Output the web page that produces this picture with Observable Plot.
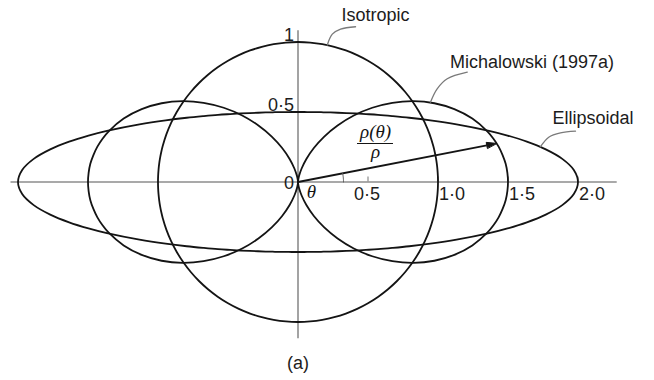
<!DOCTYPE html>
<html>
<head>
<meta charset="utf-8">
<script src="https://cdn.jsdelivr.net/npm/d3@7"></script>
<script src="https://cdn.jsdelivr.net/npm/@observablehq/plot@0.6"></script>
<style>
  html, body { margin: 0; padding: 0; background: #fff; }
  #chart { width: 654px; height: 380px; }
</style>
</head>
<body>
<div id="chart"></div>
<script>
// Normalised strength ρ(θ)/ρ against direction θ (degrees), first quadrant;
// each curve is symmetric about both axes. Finer steps near θ = 0 where the
// ellipse turns sharply.
const angles = [0, 2.5, 5, 7.5, 10, 12.5, 15, 20, 25, 30, 35, 40, 45, 50, 55, 60, 65, 70, 75, 80, 85, 90];
const isotropicRho = [1, 1, 1, 1, 1, 1, 1, 1, 1, 1, 1, 1, 1, 1, 1, 1, 1, 1, 1, 1, 1, 1];
const ellipsoidalRho = [2.000, 1.972, 1.895, 1.785, 1.660, 1.533, 1.413, 1.205, 1.043, 0.918, 0.821,
                        0.746, 0.686, 0.639, 0.601, 0.571, 0.548, 0.530, 0.517, 0.507, 0.502, 0.500];
const michalowskiRho = [1.500, 1.497, 1.489, 1.474, 1.455, 1.430, 1.400, 1.325, 1.232, 1.125, 1.007,
                        0.880, 0.750, 0.620, 0.493, 0.375, 0.268, 0.175, 0.100, 0.045, 0.011, 0.000];

// Axis ticks and their labels
const xTicks = [0.5, 1.0, 1.5, 2.0];
const xTickLabels = ["0·5", "1·0", "1·5", "2·0"];
const yTicks = [0.5, 1];
const yTickLabels = ["0·5", "1"];

// Curve names with the label centre and the leader line drawn to each curve
const curveNames = ["Isotropic", "Michalowski (1997a)", "Ellipsoidal"];
const labelX = [0.554, 1.671, 2.107];
const labelY = [1.189, 0.854, 0.454];
const leaderIsotropic = [[0.209, 0.978], [0.245, 1.056], [0.304, 1.092], [0.411, 1.109]];
const leaderMichalowski = [[0.946, 0.570], [0.994, 0.666], [1.066, 0.738], [1.209, 0.785]];
const leaderEllipsoidal = [[1.732, 0.252], [1.791, 0.320], [1.875, 0.351], [1.982, 0.363]];

// The radius vector drawn to the Michalowski curve
const arrowAngle = 11;      // degrees
const arrowRho = 1.445;
const arcRadius = 0.325;

const rad = Math.PI / 180;
const polar = (t, r) => ({x: r * Math.cos(t * rad), y: r * Math.sin(t * rad)});

// Reflect the first-quadrant readings round the full turn (closed outline)
function fullTurn(rho, name) {
  const pts = [];
  for (let i = 0; i < angles.length; ++i) pts.push([angles[i], rho[i]]);
  for (let i = angles.length - 2; i >= 0; --i) pts.push([180 - angles[i], rho[i]]);
  for (let i = 1; i < angles.length; ++i) pts.push([180 + angles[i], rho[i]]);
  for (let i = angles.length - 2; i >= 1; --i) pts.push([360 - angles[i], rho[i]]);
  return pts.map(([t, r]) => ({...polar(t, r), curve: name}));
}

// The Michalowski curve meets the origin, so it is drawn as two lobes
function lobes(rho, name) {
  const right = [];
  for (let i = angles.length - 1; i >= 1; --i) right.push(polar(-angles[i], rho[i]));
  for (let i = 0; i < angles.length; ++i) right.push(polar(angles[i], rho[i]));
  const left = right.map(p => ({x: -p.x, y: p.y}));
  return [
    ...right.map(p => ({...p, lobe: name + " right"})),
    ...left.map(p => ({...p, lobe: name + " left"}))
  ];
}

const closedCurves = [
  ...fullTurn(isotropicRho, curveNames[0]),
  ...fullTurn(ellipsoidalRho, curveNames[2])
];
const michalowskiPts = lobes(michalowskiRho, curveNames[1]);

const leaders = [leaderIsotropic, leaderMichalowski, leaderEllipsoidal]
  .flatMap((pts, k) => pts.map(([x, y]) => ({x, y, curve: curveNames[k]})));

const labels = curveNames.map((name, i) => ({name, x: labelX[i], y: labelY[i]}));

// Arrow shaft and filled head
const tip = polar(arrowAngle, arrowRho);
const ux = Math.cos(arrowAngle * rad), uy = Math.sin(arrowAngle * rad);
const headLen = 10 / 140, headHalf = 3 / 140;
const base = {x: tip.x - headLen * ux, y: tip.y - headLen * uy};
const head = [
  tip,
  {x: base.x - headHalf * uy, y: base.y + headHalf * ux},
  {x: base.x + headHalf * uy, y: base.y - headHalf * ux}
];
const arc = d3.range(0, arrowAngle + 0.5, 1).map(t => polar(t, arcRadius));

const sans = "'Liberation Sans', Arial, Helvetica, sans-serif";
const serif = "'Liberation Serif', 'Times New Roman', serif";
const ink = "#141414";
const axisGray = "#8c8c8c";

const chart = Plot.plot({
  width: 654,
  height: 380,
  margin: 0,
  x: {domain: [0, 1], range: [297.5, 437.5], axis: null},
  y: {domain: [0, 1], range: [181.5, 41.5], axis: null},
  style: {fontFamily: sans, background: "#fff", overflow: "visible"},
  marks: [
    // axes
    Plot.ruleY([{y: 0, x1: -2.05, x2: 2.28}], {y: "y", x1: "x1", x2: "x2", stroke: axisGray, strokeWidth: 1.6}),
    Plot.ruleX([{x: 0, y1: -1.12, y2: 1.08}], {x: "x", y1: "y1", y2: "y2", stroke: axisGray, strokeWidth: 1.6}),
    Plot.ruleX(xTicks, {x: d => d, y1: 0, y2: 0.036, stroke: axisGray, strokeWidth: 1.2}),

    // curves
    Plot.line(closedCurves, {x: "x", y: "y", z: "curve", curve: "catmull-rom-closed", stroke: ink, strokeWidth: 1.8}),
    Plot.line(michalowskiPts, {x: "x", y: "y", z: "lobe", curve: "catmull-rom", stroke: ink, strokeWidth: 1.8}),

    // leader lines and curve labels
    Plot.line(leaders, {x: "x", y: "y", z: "curve", curve: "catmull-rom", stroke: "#7a7a7a", strokeWidth: 1.3}),
    Plot.text(labels, {x: "x", y: "y", text: "name", fontSize: 18, fill: "#1c1c1c", lineAnchor: "middle"}),

    // radius vector, angle arc and annotation
    Plot.link([{x1: 0, y1: 0, x2: base.x, y2: base.y}], {x1: "x1", y1: "y1", x2: "x2", y2: "y2", stroke: ink, strokeWidth: 1.8}),
    Plot.line(head, {x: "x", y: "y", curve: "linear-closed", fill: ink, stroke: ink, strokeWidth: 1}),
    Plot.line(arc, {x: "x", y: "y", stroke: "#555", strokeWidth: 1}),
    Plot.text(["ρ(θ)"], {x: 0.554, y: 0.36, fontSize: 19, fontFamily: serif, fontStyle: "italic", fill: ink, lineAnchor: "middle"}),
    Plot.ruleY([0.275], {x1: 0.425, x2: 0.682, stroke: ink, strokeWidth: 1.2}),
    Plot.text(["ρ"], {x: 0.554, y: 0.215, fontSize: 19, fontFamily: serif, fontStyle: "italic", fill: ink, lineAnchor: "middle"}),
    Plot.text(["θ"], {x: 0.096, y: -0.068, fontSize: 19, fontFamily: serif, fontStyle: "italic", fill: ink, lineAnchor: "middle"}),

    // tick labels
    Plot.text(["0"], {x: 0, y: 0, dx: -4, dy: 1, textAnchor: "end", lineAnchor: "middle", fontSize: 18, fill: "#1c1c1c"}),
    Plot.text([xTickLabels[0]], {x: xTicks[0], y: 0, dx: -1, dy: 12, textAnchor: "middle", lineAnchor: "middle", fontSize: 18, fill: "#1c1c1c"}),
    Plot.text(xTickLabels.slice(1), {x: (d, i) => xTicks[i + 1], y: 0, dx: 1, dy: 12, textAnchor: "start", lineAnchor: "middle", fontSize: 18, fill: "#1c1c1c"}),
    Plot.text(yTickLabels, {x: 0, y: (d, i) => yTicks[i], dx: -4, dy: -7, textAnchor: "end", lineAnchor: "middle", fontSize: 18, fill: "#1c1c1c"}),

    // panel letter
    Plot.text(["(a)"], {x: 0, frameAnchor: "bottom", dy: -17, lineAnchor: "middle", fontSize: 18, fill: "#1c1c1c"})
  ]
});

document.getElementById("chart").append(chart);
</script>
</body>
</html>
